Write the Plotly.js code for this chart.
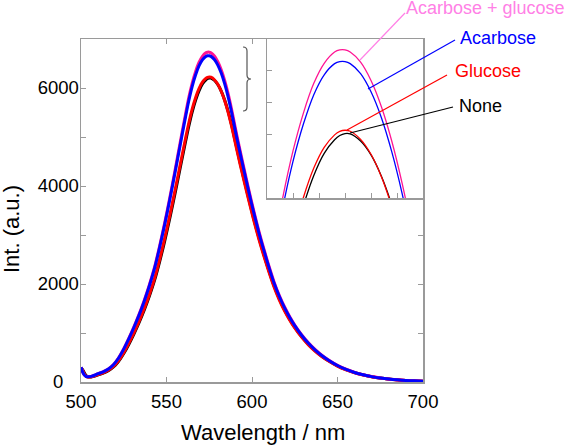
<!DOCTYPE html>
<html>
<head>
<meta charset="utf-8">
<script src="https://cdn.plot.ly/plotly-3.0.1.min.js"></script>
<style>
  html, body { margin: 0; padding: 0; background: #fff; }
  #chart { width: 568px; height: 446px; }
</style>
</head>
<body>
<div id="chart"></div>
<script>
// Emission spectra (wavelength in nm, intensity in a.u.)
const wavelength = [500,501,502,503,504,506,508,510,513,516,519,522,525,528,531,534,537,540,543,546,549,552,555,558,561,563,565,567,569,571,573,574,575,576,578,580,582,584,586,588,590,592,594,596,598,601,604,607,610,613,616,619,622,625,629,633,637,641,645,650,655,660,665,670,675,680,685,690,695,700];

const none = [289,250,181,130,107,104,121,147,183,233,307,424,581,771,984,1215,1469,1754,2073,2458,2887,3355,3850,4367,4882,5215,5509,5751,5942,6081,6166,6193,6205,6203,6158,6071,5937,5756,5527,5255,4947,4635,4333,4041,3752,3336,2945,2591,2259,1953,1694,1473,1282,1115,926,768,634,520,428,329,252,191,145,109,81,59,44,32,22,15];

const glucose = [290,234,159,118,102,105,124,151,188,239,316,437,599,793,1008,1242,1499,1788,2111,2504,2940,3412,3912,4432,4949,5281,5569,5803,5988,6118,6197,6219,6226,6220,6169,6075,5934,5745,5509,5229,4915,4602,4301,4009,3719,3304,2915,2564,2233,1929,1673,1455,1267,1102,915,758,626,514,422,324,248,188,142,107,79,58,43,31,22,15];

const acarboseGlucose = [303,202,142,113,107,115,141,171,210,268,356,495,678,894,1129,1385,1668,1986,2342,2780,3258,3775,4321,4886,5444,5798,6096,6334,6521,6647,6718,6731,6731,6718,6654,6539,6374,6157,5890,5576,5227,4893,4570,4256,3943,3498,3084,2709,2356,2032,1764,1535,1337,1163,965,799,659,542,444,341,260,197,149,111,83,61,44,32,23,16];

const acarbose = [300,200,140,112,106,114,139,169,208,265,352,490,671,884,1117,1370,1650,1964,2317,2750,3223,3734,4274,4833,5385,5735,6030,6265,6450,6575,6645,6658,6658,6645,6582,6468,6305,6090,5826,5515,5170,4840,4520,4210,3900,3460,3050,2680,2330,2010,1745,1518,1322,1150,955,790,652,536,439,337,257,195,147,110,82,60,44,32,23,16];

const xTicks = [500, 550, 600, 650, 700];
const yTicks = [0, 1000, 2000, 3000, 4000, 5000, 6000];
// labels are centred under each other, so the single digit carries padding
const yTickText = ['0\u00a0\u00a0\u00a0', '', '2000', '', '4000', '', '6000'];
const insetXTicks = [565, 570, 575, 580, 585];
const insetYTicks = [6000, 6200, 6400, 6600];

const series = [
  { name: 'None', y: none, color: '#000000' },
  { name: 'Glucose', y: glucose, color: '#ff0000' },
  { name: 'Acarbose + glucose', y: acarboseGlucose, color: '#ff1493' },
  { name: 'Acarbose', y: acarbose, color: '#0000ff' }
];

const FONT = 'Liberation Sans, Arial, Helvetica, sans-serif';
const AXIS_GREY = '#9a9a9a';

const traces = [];
series.forEach(s => {
  traces.push({
    x: wavelength, y: s.y, name: s.name, type: 'scatter', mode: 'lines',
    line: { color: s.color, width: 3, shape: 'spline', smoothing: 0.8 },
    xaxis: 'x', yaxis: 'y', hoverinfo: 'skip'
  });
});
series.forEach(s => {
  traces.push({
    x: wavelength, y: s.y, name: s.name, type: 'scatter', mode: 'lines',
    line: { color: s.color, width: 1.3, shape: 'spline', smoothing: 0.8 },
    xaxis: 'x2', yaxis: 'y2', hoverinfo: 'skip'
  });
});

// paper-coordinate helpers (plot area spans 342 x 343 px)
const PX0 = 81, PW = 342, PY1 = 382, PH = 343;
const px = v => (v - PX0) / PW;
const py = v => (PY1 - v) / PH;

const leader = (x0, y0, x1, y1, color) => ({
  type: 'line', xref: 'paper', yref: 'paper',
  x0: px(x0), y0: py(y0), x1: px(x1), y1: py(y1),
  line: { color: color, width: 1.2 }
});

const label = (text, x, y, color) => ({
  text: text, xref: 'paper', yref: 'paper', x: px(x), y: py(y),
  xanchor: 'left', yanchor: 'middle', showarrow: false,
  font: { family: FONT, size: 18, color: color }
});

// curly brace next to the peaks
const bx = [px(243), px(247), px(251)];
const by = [py(47), py(51), py(75), py(79), py(83), py(107), py(111)];
const bracePath = `M ${bx[0]},${by[0]} Q ${bx[1]},${by[0]} ${bx[1]},${by[1]} L ${bx[1]},${by[2]} Q ${bx[1]},${by[3]} ${bx[2]},${by[3]} Q ${bx[1]},${by[3]} ${bx[1]},${by[4]} L ${bx[1]},${by[5]} Q ${bx[1]},${by[6]} ${bx[0]},${by[6]}`;

const axisCommon = {
  showgrid: false, zeroline: false, ticks: 'inside', ticklen: 5, tickwidth: 1,
  tickcolor: AXIS_GREY, linecolor: AXIS_GREY, linewidth: 1.5, showline: true,
  tickfont: { family: FONT, size: 18.5, color: '#000' }
};

const layout = {
  width: 568, height: 446,
  margin: { l: PX0, r: 568 - PX0 - PW, t: PY1 - PH, b: 446 - PY1 },
  paper_bgcolor: '#ffffff', plot_bgcolor: '#ffffff',
  showlegend: false,
  font: { family: FONT, color: '#000' },
  xaxis: Object.assign({}, axisCommon, {
    range: [500, 700], tickvals: xTicks, mirror: 'ticks', domain: [0, 1], anchor: 'y',
    ticklabelstandoff: 2
  }),
  yaxis: Object.assign({}, axisCommon, {
    range: [0, 7000], tickvals: yTicks, ticktext: yTickText, mirror: 'ticks', domain: [0, 1], anchor: 'x',
    ticklabelstandoff: -3
  }),
  xaxis2: Object.assign({}, axisCommon, {
    range: [560, 590], tickvals: insetXTicks, showticklabels: false, mirror: true,
    domain: [px(267), 1], anchor: 'y2'
  }),
  yaxis2: Object.assign({}, axisCommon, {
    range: [5800, 6800], tickvals: insetYTicks, showticklabels: false, mirror: true,
    domain: [py(198), 1], anchor: 'x2'
  }),
  shapes: [
    { type: 'path', xref: 'paper', yref: 'paper', path: bracePath,
      line: { color: '#555', width: 1.2 } },
    leader(405, 13, 360, 60, '#ff80e6'),
    leader(455, 40, 368, 89, '#0000ff'),
    leader(447, 75, 347, 130, '#ff0000'),
    leader(453, 107, 350, 133, '#000000')
  ],
  annotations: [
    label('Acarbose + glucose', 404, 8, '#ff80e6'),
    label('Acarbose', 458, 38, '#0000ff'),
    label('Glucose', 453, 71, '#ff0000'),
    label('None', 457, 106, '#000000'),
    { text: 'Int. (a.u.)', xref: 'paper', yref: 'paper', x: px(11), y: py(229),
      xanchor: 'center', yanchor: 'middle', textangle: -90, showarrow: false,
      font: { family: FONT, size: 22, color: '#000' } },
    { text: 'Wavelength / nm', xref: 'paper', yref: 'paper', x: px(263), y: py(433),
      xanchor: 'center', yanchor: 'middle', showarrow: false,
      font: { family: FONT, size: 22, color: '#000' } }
  ]
};

Plotly.newPlot('chart', traces, layout, { displayModeBar: false, staticPlot: true });
</script>
</body>
</html>
